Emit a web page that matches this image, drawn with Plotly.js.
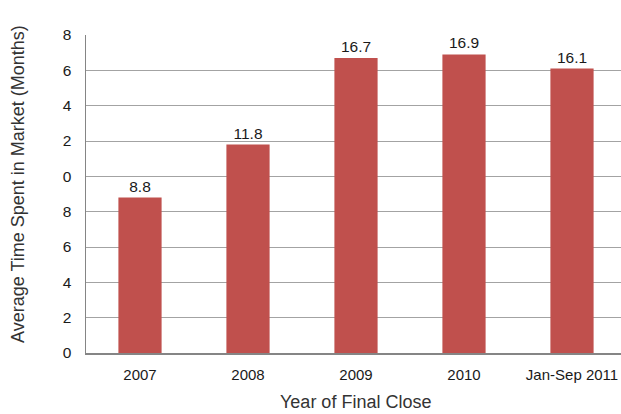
<!DOCTYPE html>
<html>
<head>
<meta charset="utf-8">
<script src="https://cdn.plot.ly/plotly-3.0.1.min.js"></script>
<style>
  html, body { margin: 0; padding: 0; background: #fff; overflow: hidden; }
  #chart { width: 621px; height: 414px; }
</style>
</head>
<body>
<div id="chart"></div>
<script>
// Average months on market by year of final close
const categories = ["2007", "2008", "2009", "2010", "Jan-Sep 2011"];
const months = [8.8, 11.8, 16.7, 16.9, 16.1];

// Y axis tick positions and the labels printed beside them
const yTickVals = [0, 2, 4, 6, 8, 10, 12, 14, 16, 18];
const yTickText = ["0", "2", "4", "6", "8", "0", "2", "4", "6", "8"];

const barColor = "#C0504D";
const font = "Liberation Sans, Arial, sans-serif";

const trace = {
  type: "bar",
  x: categories,
  y: months,
  marker: { color: barColor, line: { width: 0 } },
  width: 0.4,
  texttemplate: "%{y:.1f}",
  textposition: "outside",
  cliponaxis: false,
  textfont: { family: font, size: 15.5, color: "#1a1a1a" },
  hoverinfo: "none"
};

const layout = {
  width: 621,
  height: 414,
  margin: { l: 86, r: 0, t: 35, b: 61 },
  paper_bgcolor: "#ffffff",
  plot_bgcolor: "#ffffff",
  showlegend: false,
  font: { family: font, size: 15, color: "#1a1a1a" },
  xaxis: {
    type: "category",
    range: [-0.5, 4.4537],
    showline: true,
    linecolor: "#858585",
    linewidth: 1.5,
    showgrid: false,
    ticks: "",
    ticklabelstandoff: 7,
    tickfont: { family: font, size: 15, color: "#1a1a1a" }
  },
  yaxis: {
    range: [0, 18],
    tickvals: yTickVals,
    ticktext: yTickText,
    showline: true,
    linecolor: "#858585",
    linewidth: 1.5,
    showgrid: true,
    gridcolor: "#a3a3a3",
    gridwidth: 1,
    zeroline: false,
    ticks: "",
    ticklabelstandoff: 10,
    tickfont: { family: font, size: 15.5, color: "#1a1a1a" }
  },
  annotations: [
    {
      text: "Average Time Spent in Market (Months)",
      xref: "paper", yref: "paper",
      x: -68 / 535, y: (353 - 184) / 318,
      xanchor: "center", yanchor: "middle",
      textangle: -90,
      showarrow: false,
      font: { family: font, size: 18, color: "#333333" }
    },
    {
      text: "Year of Final Close",
      xref: "paper", yref: "paper",
      x: (356 - 86) / 535, y: -49 / 318,
      xanchor: "center", yanchor: "middle",
      showarrow: false,
      font: { family: font, size: 18, color: "#333333" }
    }
  ]
};

Plotly.newPlot("chart", [trace], layout, { staticPlot: true, displayModeBar: false });
</script>
</body>
</html>
